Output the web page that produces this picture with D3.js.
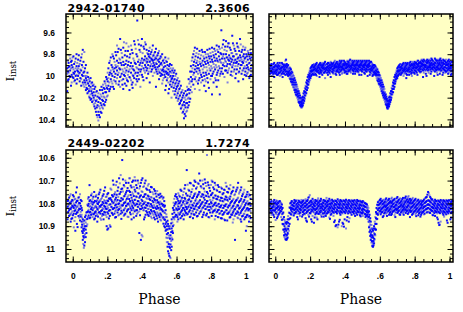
<!DOCTYPE html>
<html>
<head>
<meta charset="utf-8">
<script src="https://cdn.jsdelivr.net/npm/d3@7/dist/d3.min.js"></script>
<style>
  body { margin: 0; background: #fff; }
  svg { display: block; }
</style>
</head>
<body>
<div id="chart"></div>
<script>
// titles over each row of panels
const starIds = ["2942-01740", "2449-02202"];
const periods = ["2.3606", "1.7274"];

const phaseTicks = [0, 0.2, 0.4, 0.6, 0.8, 1];
const topMagTicks = [9.6, 9.8, 10, 10.2, 10.4];
const bottomMagTicks = [10.6, 10.7, 10.8, 10.9, 11];

// each row: [phase, mag, mag, ...]
const tlRows = [
  [-0.032, 9.93, 10.14, 9.98], [-0.024, 9.88, 9.97, 10.03, 9.92], [-0.015, 9.84, 9.95, 10.01],
  [-0.006, 9.9, 9.99, 10.06, 9.86], [0.004, 9.82, 9.94, 10.02, 9.97], [0.013, 9.87, 9.96, 10.04],
  [0.022, 9.8, 9.91, 9.99, 10.07], [0.031, 9.85, 9.93, 10.0, 9.96], [0.04, 9.89, 9.97, 10.05],
  [0.049, 9.83, 9.95, 10.03, 10.09], [0.058, 9.76, 9.92, 10.0, 10.06], [0.067, 9.78, 9.96, 10.04, 10.1],
  [0.076, 9.9, 10.02, 10.08, 10.13], [0.085, 9.97, 10.06, 10.12, 10.16], [0.094, 10.03, 10.09, 10.14, 10.19],
  [0.103, 10.02, 10.1, 10.17, 10.22], [0.112, 10.06, 10.12, 10.16, 10.24], [0.121, 10.08, 10.15, 10.2, 10.26],
  [0.13, 10.1, 10.18, 10.25, 10.3], [0.139, 10.14, 10.22, 10.29, 10.36], [0.148, 10.16, 10.24, 10.33, 10.41],
  [0.157, 10.13, 10.21, 10.3, 10.38], [0.166, 10.1, 10.19, 10.27, 10.34], [0.175, 10.08, 10.16, 10.23, 10.3],
  [0.184, 10.05, 10.12, 10.2, 10.27], [0.193, 10.01, 10.09, 10.15, 10.22], [0.202, 9.97, 10.05, 10.12, 10.18],
  [0.211, 9.88, 9.99, 10.06, 10.14], [0.22, 9.83, 9.95, 10.03, 10.1], [0.229, 9.8, 9.92, 10.0, 10.07],
  [0.238, 9.84, 9.96, 10.04, 10.12], [0.247, 9.78, 9.9, 9.98, 10.05], [0.256, 9.72, 9.86, 9.95, 10.02],
  [0.265, 9.75, 9.88, 9.97, 10.08], [0.274, 9.66, 9.85, 9.94, 10.01, 10.1], [0.283, 9.79, 9.9, 9.98, 10.04],
  [0.292, 9.74, 9.87, 9.96, 10.03, 10.12], [0.301, 9.81, 9.93, 10.0, 10.07], [0.31, 9.7, 9.86, 9.95, 10.02, 10.09],
  [0.319, 9.77, 9.9, 9.99, 10.05], [0.328, 9.83, 9.94, 10.01, 10.13], [0.337, 9.72, 9.88, 9.97, 10.04],
  [0.346, 9.79, 9.91, 9.99, 10.06, 10.11], [0.355, 9.68, 9.86, 9.95, 10.02], [0.364, 9.75, 9.89, 9.97, 10.08],
  [0.373, 9.49, 9.82, 9.93, 10.0, 10.05], [0.382, 9.71, 9.85, 9.94, 10.03], [0.391, 9.78, 9.88, 9.96, 10.1],
  [0.4, 9.66, 9.84, 9.91, 9.99], [0.409, 9.73, 9.86, 9.93, 10.04], [0.418, 9.69, 9.82, 9.9, 9.97],
  [0.427, 9.76, 9.84, 9.88, 9.95, 10.02], [0.436, 9.8, 9.85, 9.9, 9.98], [0.445, 9.74, 9.83, 9.87, 9.93, 10.06],
  [0.454, 9.78, 9.84, 9.89, 9.96], [0.463, 9.72, 9.82, 9.86, 9.91, 10.0], [0.472, 9.79, 9.85, 9.9, 9.97],
  [0.481, 9.75, 9.84, 9.88, 9.94, 10.1], [0.49, 9.81, 9.86, 9.92, 9.98], [0.499, 9.77, 9.87, 9.91, 9.96, 10.03],
  [0.508, 9.82, 9.89, 9.94, 10.0], [0.517, 9.8, 9.9, 9.95, 9.99, 10.07], [0.526, 9.85, 9.92, 9.96, 10.02],
  [0.535, 9.83, 9.91, 9.97, 10.01, 10.13], [0.544, 9.87, 9.93, 9.98, 10.04], [0.553, 9.84, 9.94, 9.99, 10.06, 10.16],
  [0.562, 9.89, 9.96, 10.01, 10.08], [0.571, 9.9, 9.97, 10.03, 10.1, 10.2], [0.58, 9.93, 10.0, 10.06, 10.14],
  [0.589, 9.95, 10.03, 10.09, 10.17], [0.598, 9.98, 10.06, 10.12, 10.2], [0.607, 10.02, 10.09, 10.16, 10.23],
  [0.616, 10.05, 10.12, 10.19, 10.26], [0.625, 10.09, 10.16, 10.23, 10.3], [0.634, 10.13, 10.2, 10.27, 10.34],
  [0.643, 10.16, 10.24, 10.31, 10.39], [0.652, 10.14, 10.22, 10.29, 10.37], [0.661, 10.1, 10.17, 10.25, 10.32],
  [0.67, 10.03, 10.12, 10.2, 10.27], [0.679, 9.96, 10.05, 10.13, 10.21], [0.688, 9.86, 9.96, 10.05, 10.15],
  [0.697, 9.8, 9.9, 9.99, 10.08], [0.706, 9.74, 9.85, 9.94, 10.03, 10.12], [0.715, 9.79, 9.88, 9.96, 10.05],
  [0.724, 9.83, 9.9, 9.98, 10.07], [0.733, 9.77, 9.87, 9.95, 10.02, 10.13], [0.742, 9.81, 9.91, 9.99, 10.06],
  [0.751, 9.78, 9.86, 9.94, 10.04], [0.76, 9.84, 9.92, 10.0, 10.09], [0.769, 9.8, 9.89, 9.97, 10.05, 10.14],
  [0.778, 9.76, 9.86, 9.95, 10.02], [0.787, 9.82, 9.9, 9.98, 10.11], [0.796, 9.79, 9.87, 9.95, 10.03],
  [0.805, 9.74, 9.85, 9.93, 10.0, 10.17], [0.814, 9.81, 9.89, 9.96, 10.06], [0.823, 9.77, 9.86, 9.94, 10.02],
  [0.832, 9.72, 9.84, 9.92, 9.99, 10.1], [0.841, 9.78, 9.87, 9.95, 10.04], [0.85, 9.75, 9.85, 9.93, 10.0, 10.17],
  [0.859, 9.58, 9.8, 9.88, 9.96], [0.868, 9.71, 9.82, 9.9, 9.98], [0.877, 9.76, 9.84, 9.91, 10.01],
  [0.886, 9.68, 9.8, 9.87, 9.95], [0.895, 9.73, 9.83, 9.89, 9.97, 10.06], [0.904, 9.7, 9.81, 9.86, 9.93],
  [0.913, 9.76, 9.84, 9.9, 9.99], [0.922, 9.63, 9.79, 9.85, 9.92, 10.0], [0.931, 9.72, 9.82, 9.88, 9.96],
  [0.94, 9.77, 9.85, 9.91, 10.02], [0.949, 9.7, 9.8, 9.87, 9.94], [0.958, 9.74, 9.83, 9.89, 9.97, 10.05],
  [0.967, 9.66, 9.81, 9.86, 9.93], [0.976, 9.78, 9.85, 9.9, 9.98], [0.985, 9.73, 9.82, 9.88, 9.95, 10.03],
  [0.994, 9.76, 9.84, 9.91, 9.99], [1.003, 9.8, 9.87, 9.93, 10.0], [1.012, 9.77, 9.85, 9.92, 9.97],
  [1.021, 9.82, 9.88, 9.95, 10.02], [1.03, 9.79, 9.86, 9.93, 9.99]
];

const tlExtra = [
  [-0.028, 9.86, 9.96, 10.04], [-0.019, 9.91, 10.0, 9.81], [-0.01, 9.87, 9.93, 10.09], [-0.001, 9.83, 9.92, 10.01],
  [0.008, 9.89, 9.98, 10.05], [0.017, 9.84, 9.93, 10.0], [0.026, 9.88, 9.95, 10.03], [0.035, 9.81, 9.91, 9.98],
  [0.044, 9.86, 9.94, 10.02], [0.053, 9.8, 9.9, 9.99], [0.062, 9.87, 9.97, 10.08], [0.071, 9.93, 10.0, 10.06],
  [0.08, 10.0, 10.04, 10.11], [0.089, 10.01, 10.07, 10.15], [0.098, 10.05, 10.12, 10.2], [0.107, 10.07, 10.14, 10.21],
  [0.116, 10.09, 10.18, 10.23], [0.125, 10.12, 10.22, 10.28], [0.134, 10.15, 10.23, 10.33], [0.143, 10.19, 10.27, 10.38],
  [0.152, 10.2, 10.28, 10.36], [0.161, 10.17, 10.25, 10.33], [0.17, 10.13, 10.22, 10.29], [0.179, 10.11, 10.19, 10.26],
  [0.188, 10.07, 10.15, 10.24], [0.197, 10.03, 10.11, 10.19], [0.206, 9.93, 10.02, 10.09], [0.215, 9.86, 9.97, 10.12],
  [0.224, 9.9, 9.98, 10.05], [0.233, 9.82, 9.94, 10.1], [0.242, 9.87, 9.93, 10.01], [0.251, 9.81, 9.92, 10.07],
  [0.26, 9.78, 9.91, 9.99], [0.269, 9.84, 9.93, 10.05], [0.278, 9.76, 9.88, 10.0], [0.287, 9.83, 9.94, 10.08],
  [0.296, 9.69, 9.9, 9.99], [0.305, 9.77, 9.89, 9.97], [0.314, 9.82, 9.92, 10.04], [0.323, 9.73, 9.87, 9.96],
  [0.332, 9.8, 9.91, 10.02], [0.341, 9.76, 9.93, 10.08], [0.35, 9.84, 9.94, 10.0], [0.359, 9.71, 9.88, 9.98],
  [0.368, 9.8, 9.92, 10.03], [0.377, 9.67, 9.87, 9.97], [0.386, 9.76, 9.9, 9.99], [0.395, 9.72, 9.86, 9.94],
  [0.404, 9.79, 9.88, 10.01], [0.413, 9.75, 9.85, 9.95], [0.422, 9.71, 9.86, 9.92], [0.431, 9.79, 9.87, 9.93],
  [0.44, 9.77, 9.82, 9.96], [0.449, 9.8, 9.86, 9.91], [0.458, 9.76, 9.85, 9.94], [0.467, 9.81, 9.88, 9.93],
  [0.476, 9.78, 9.83, 9.92], [0.485, 9.82, 9.89, 9.96], [0.494, 9.79, 9.85, 9.94], [0.503, 9.84, 9.9, 9.97],
  [0.512, 9.83, 9.88, 9.98], [0.521, 9.86, 9.94, 10.04], [0.53, 9.88, 9.95, 9.99], [0.539, 9.86, 9.96, 10.09],
  [0.548, 9.9, 9.97, 10.02], [0.557, 9.91, 9.98, 10.12], [0.566, 9.93, 10.0, 10.05], [0.575, 9.95, 10.02, 10.08],
  [0.584, 9.97, 10.04, 10.11], [0.593, 10.0, 10.07, 10.14], [0.602, 10.04, 10.1, 10.18], [0.611, 10.07, 10.14, 10.21],
  [0.62, 10.11, 10.18, 10.25], [0.629, 10.15, 10.22, 10.29], [0.638, 10.18, 10.26, 10.33], [0.647, 10.2, 10.27, 10.35],
  [0.656, 10.18, 10.25, 10.33], [0.665, 10.13, 10.21, 10.29], [0.674, 10.07, 10.16, 10.24], [0.683, 9.91, 10.01, 10.1],
  [0.692, 9.83, 9.93, 10.03], [0.701, 9.77, 9.87, 9.97], [0.71, 9.82, 9.91, 10.01], [0.719, 9.75, 9.86, 9.93],
  [0.728, 9.8, 9.93, 10.04], [0.737, 9.84, 9.89, 9.97], [0.746, 9.76, 9.88, 10.01], [0.755, 9.82, 9.9, 9.97],
  [0.764, 9.78, 9.87, 10.03], [0.773, 9.83, 9.92, 9.99], [0.782, 9.8, 9.88, 10.06], [0.791, 9.75, 9.84, 9.93],
  [0.8, 9.82, 9.91, 10.0], [0.809, 9.78, 9.87, 9.98], [0.818, 9.75, 9.83, 9.92], [0.827, 9.8, 9.9, 10.04],
  [0.836, 9.76, 9.86, 9.97], [0.845, 9.73, 9.82, 9.91], [0.854, 9.79, 9.87, 9.98], [0.863, 9.74, 9.84, 9.93],
  [0.872, 9.67, 9.8, 9.88], [0.881, 9.73, 9.86, 9.95], [0.89, 9.77, 9.83, 9.91], [0.899, 9.7, 9.85, 9.95],
  [0.908, 9.74, 9.83, 9.89], [0.917, 9.79, 9.87, 9.96], [0.926, 9.7, 9.82, 9.9], [0.935, 9.75, 9.86, 9.94],
  [0.944, 9.8, 9.88, 9.98], [0.953, 9.73, 9.84, 9.91], [0.962, 9.77, 9.86, 9.96], [0.971, 9.71, 9.83, 9.9],
  [0.98, 9.76, 9.87, 9.95], [0.989, 9.8, 9.86, 9.93], [0.998, 9.74, 9.83, 9.96], [1.007, 9.82, 9.9, 9.98],
  [1.016, 9.79, 9.89, 9.94], [1.025, 9.76, 9.84, 10.0], [1.034, 9.83, 9.9, 9.96]
];

const trRows = [
  [-0.03, 9.9, 9.93, 9.95, 9.98], [-0.022, 9.89, 9.92, 9.95, 9.97, 10.0], [-0.014, 9.91, 9.94, 9.96, 9.99],
  [-0.006, 9.88, 9.92, 9.94, 9.97, 10.01], [0.002, 9.9, 9.93, 9.95, 9.98], [0.01, 9.89, 9.91, 9.94, 9.96, 9.99],
  [0.018, 9.9, 9.93, 9.96, 9.98], [0.026, 9.88, 9.92, 9.94, 9.97, 10.0], [0.034, 9.91, 9.93, 9.95, 9.99],
  [0.042, 9.89, 9.92, 9.95, 9.97, 10.01], [0.05, 9.9, 9.93, 9.94, 9.98], [0.058, 9.86, 9.91, 9.94, 9.96, 9.99],
  [0.066, 9.89, 9.92, 9.95, 9.98], [0.074, 9.9, 9.94, 9.97, 10.0], [0.082, 9.92, 9.95, 9.99, 10.02],
  [0.09, 9.94, 9.98, 10.02, 10.05], [0.098, 9.97, 10.01, 10.05, 10.08], [0.106, 10.0, 10.04, 10.08, 10.11],
  [0.114, 10.04, 10.08, 10.12, 10.15], [0.122, 10.08, 10.12, 10.15, 10.18], [0.13, 10.12, 10.16, 10.19, 10.22],
  [0.138, 10.16, 10.2, 10.23, 10.25], [0.146, 10.2, 10.23, 10.26, 10.28], [0.152, 10.22, 10.25, 10.27, 10.29],
  [0.158, 10.19, 10.22, 10.25, 10.27], [0.166, 10.14, 10.17, 10.2, 10.23], [0.174, 10.09, 10.12, 10.15, 10.18],
  [0.182, 10.04, 10.07, 10.1, 10.13], [0.19, 9.99, 10.02, 10.05, 10.08], [0.198, 9.95, 9.98, 10.01, 10.04],
  [0.206, 9.92, 9.95, 9.97, 10.0], [0.214, 9.9, 9.93, 9.95, 9.98], [0.222, 9.89, 9.92, 9.94, 9.97, 9.99],
  [0.23, 9.9, 9.93, 9.95, 9.98], [0.238, 9.88, 9.91, 9.94, 9.96, 10.0], [0.246, 9.9, 9.92, 9.95, 9.97],
  [0.254, 9.89, 9.93, 9.94, 9.98, 10.01], [0.262, 9.9, 9.92, 9.95, 9.97], [0.27, 9.88, 9.91, 9.93, 9.96, 9.99],
  [0.278, 9.89, 9.92, 9.94, 9.97], [0.286, 9.87, 9.9, 9.93, 9.96, 10.02], [0.294, 9.89, 9.92, 9.94, 9.97],
  [0.302, 9.88, 9.91, 9.93, 9.95, 9.99], [0.31, 9.9, 9.92, 9.94, 9.97], [0.318, 9.87, 9.9, 9.93, 9.96, 10.01],
  [0.326, 9.89, 9.91, 9.94, 9.96], [0.334, 9.88, 9.9, 9.93, 9.95, 9.98], [0.342, 9.86, 9.9, 9.92, 9.95],
  [0.35, 9.88, 9.91, 9.93, 9.96, 9.99], [0.358, 9.89, 9.91, 9.94, 9.96], [0.366, 9.87, 9.9, 9.92, 9.95, 9.97],
  [0.374, 9.88, 9.91, 9.93, 9.96], [0.382, 9.86, 9.89, 9.92, 9.94, 9.98], [0.39, 9.88, 9.9, 9.93, 9.95],
  [0.398, 9.87, 9.9, 9.92, 9.95, 9.97], [0.406, 9.89, 9.91, 9.93, 9.96], [0.414, 9.86, 9.89, 9.92, 9.94, 9.98],
  [0.422, 9.88, 9.9, 9.93, 9.95], [0.43, 9.85, 9.89, 9.91, 9.94, 9.96], [0.438, 9.87, 9.9, 9.92, 9.95],
  [0.446, 9.88, 9.9, 9.93, 9.95, 9.98], [0.454, 9.86, 9.89, 9.91, 9.94], [0.462, 9.87, 9.9, 9.92, 9.94, 9.96],
  [0.47, 9.88, 9.9, 9.93, 9.95], [0.478, 9.86, 9.89, 9.91, 9.94, 9.97], [0.486, 9.87, 9.9, 9.92, 9.95],
  [0.494, 9.88, 9.9, 9.93, 9.95, 9.99], [0.502, 9.86, 9.89, 9.91, 9.94], [0.51, 9.87, 9.9, 9.92, 9.94, 9.97],
  [0.518, 9.88, 9.9, 9.93, 9.95], [0.526, 9.86, 9.89, 9.91, 9.94, 9.96], [0.534, 9.87, 9.9, 9.92, 9.95],
  [0.542, 9.88, 9.91, 9.93, 9.96, 9.99], [0.55, 9.87, 9.9, 9.93, 9.95], [0.558, 9.89, 9.91, 9.94, 9.96, 10.0],
  [0.566, 9.9, 9.92, 9.95, 9.97], [0.574, 9.91, 9.94, 9.97, 9.99], [0.582, 9.93, 9.96, 9.99, 10.02],
  [0.59, 9.96, 9.99, 10.02, 10.05], [0.598, 9.99, 10.02, 10.05, 10.08], [0.606, 10.02, 10.06, 10.09, 10.12],
  [0.614, 10.06, 10.1, 10.13, 10.16], [0.622, 10.1, 10.14, 10.17, 10.2], [0.63, 10.15, 10.18, 10.21, 10.24],
  [0.638, 10.19, 10.22, 10.25, 10.27], [0.644, 10.23, 10.26, 10.28, 10.3], [0.65, 10.22, 10.25, 10.27, 10.29],
  [0.656, 10.19, 10.22, 10.24, 10.26], [0.664, 10.14, 10.17, 10.2, 10.22], [0.672, 10.09, 10.12, 10.15, 10.17],
  [0.68, 10.04, 10.07, 10.1, 10.12], [0.688, 9.99, 10.02, 10.05, 10.07], [0.696, 9.95, 9.98, 10.01, 10.03],
  [0.704, 9.92, 9.95, 9.97, 10.0], [0.712, 9.9, 9.93, 9.95, 9.98], [0.72, 9.89, 9.92, 9.94, 9.97, 9.99],
  [0.728, 9.9, 9.93, 9.95, 9.97], [0.736, 9.88, 9.91, 9.94, 9.96, 10.0], [0.744, 9.89, 9.92, 9.94, 9.97],
  [0.752, 9.9, 9.93, 9.95, 9.98, 10.02], [0.76, 9.88, 9.91, 9.94, 9.96], [0.768, 9.89, 9.92, 9.94, 9.97, 9.99],
  [0.776, 9.87, 9.91, 9.93, 9.96], [0.784, 9.89, 9.92, 9.95, 9.97, 10.0], [0.792, 9.88, 9.91, 9.93, 9.96],
  [0.8, 9.87, 9.9, 9.93, 9.95, 9.98], [0.808, 9.88, 9.91, 9.93, 9.96], [0.816, 9.86, 9.9, 9.92, 9.95, 9.99],
  [0.824, 9.88, 9.91, 9.93, 9.95], [0.832, 9.87, 9.89, 9.92, 9.94, 9.97], [0.84, 9.85, 9.89, 9.91, 9.94],
  [0.848, 9.87, 9.9, 9.92, 9.95, 10.01], [0.856, 9.86, 9.89, 9.91, 9.94], [0.864, 9.87, 9.9, 9.92, 9.95, 9.98],
  [0.872, 9.85, 9.88, 9.91, 9.93], [0.88, 9.86, 9.89, 9.92, 9.94, 9.97], [0.888, 9.87, 9.9, 9.92, 9.95],
  [0.896, 9.84, 9.88, 9.91, 9.93, 9.96], [0.904, 9.86, 9.89, 9.92, 9.94], [0.912, 9.87, 9.9, 9.92, 9.95, 10.0],
  [0.92, 9.85, 9.88, 9.91, 9.94], [0.928, 9.86, 9.89, 9.92, 9.94, 9.97], [0.936, 9.87, 9.9, 9.93, 9.95],
  [0.944, 9.85, 9.88, 9.91, 9.94, 9.98], [0.952, 9.86, 9.89, 9.92, 9.95], [0.96, 9.87, 9.9, 9.93, 9.95, 9.99],
  [0.968, 9.86, 9.89, 9.92, 9.94], [0.976, 9.87, 9.9, 9.92, 9.95, 9.97], [0.984, 9.88, 9.9, 9.93, 9.96],
  [0.992, 9.86, 9.89, 9.92, 9.94, 9.98], [1.0, 9.87, 9.9, 9.93, 9.95], [1.008, 9.88, 9.91, 9.93, 9.96, 9.99],
  [1.016, 9.87, 9.9, 9.92, 9.95]
];

const trExtra = [
  [-0.026, 9.91, 9.94, 9.96], [-0.018, 9.9, 9.93, 9.97], [-0.01, 9.89, 9.92, 9.95, 9.98], [-0.002, 9.91, 9.94, 9.96],
  [0.006, 9.92, 9.95, 9.97], [0.014, 9.88, 9.92, 9.95, 9.99], [0.022, 9.91, 9.94, 9.97], [0.03, 9.9, 9.93, 9.96],
  [0.038, 9.88, 9.92, 9.94, 9.98], [0.046, 9.91, 9.93, 9.96], [0.054, 9.89, 9.92, 9.95, 9.97], [0.062, 9.85, 9.9, 9.93, 9.96],
  [0.07, 9.91, 9.93, 9.96, 9.99], [0.078, 9.93, 9.96, 9.98], [0.086, 9.93, 9.97, 10.0, 10.03], [0.094, 9.96, 10.0, 10.03, 10.06],
  [0.102, 9.99, 10.03, 10.06, 10.1], [0.11, 10.02, 10.06, 10.1, 10.13], [0.118, 10.06, 10.1, 10.13, 10.17], [0.126, 10.1, 10.14, 10.17, 10.2],
  [0.134, 10.14, 10.18, 10.21, 10.24], [0.142, 10.18, 10.21, 10.24, 10.27], [0.149, 10.21, 10.24, 10.27, 10.29], [0.155, 10.2, 10.23, 10.26, 10.28],
  [0.162, 10.16, 10.2, 10.22, 10.25], [0.17, 10.11, 10.15, 10.18, 10.21], [0.178, 10.06, 10.1, 10.13, 10.16], [0.186, 10.01, 10.05, 10.08, 10.11],
  [0.194, 9.97, 10.0, 10.03, 10.06], [0.202, 9.93, 9.96, 9.99, 10.02], [0.21, 9.91, 9.94, 9.96, 9.99], [0.218, 9.9, 9.92, 9.95, 9.98],
  [0.226, 9.91, 9.94, 9.96], [0.234, 9.89, 9.92, 9.95, 9.99], [0.242, 9.91, 9.93, 9.96], [0.25, 9.9, 9.92, 9.95, 9.97],
  [0.258, 9.88, 9.91, 9.94, 9.96], [0.266, 9.89, 9.92, 9.95, 9.98], [0.274, 9.9, 9.93, 9.95], [0.282, 9.88, 9.91, 9.94, 9.97],
  [0.29, 9.9, 9.93, 9.95], [0.298, 9.89, 9.92, 9.94, 9.97], [0.306, 9.88, 9.91, 9.93, 9.96], [0.314, 9.89, 9.92, 9.95, 9.98],
  [0.322, 9.88, 9.92, 9.94], [0.33, 9.89, 9.91, 9.94, 9.97], [0.338, 9.87, 9.91, 9.93, 9.96], [0.346, 9.89, 9.92, 9.94, 9.98],
  [0.354, 9.87, 9.9, 9.92, 9.95], [0.362, 9.88, 9.91, 9.93, 9.96], [0.37, 9.86, 9.89, 9.92, 9.94, 9.99], [0.378, 9.87, 9.9, 9.92, 9.95],
  [0.386, 9.89, 9.91, 9.93, 9.97], [0.394, 9.86, 9.89, 9.91, 9.94], [0.402, 9.88, 9.91, 9.93, 9.96], [0.41, 9.87, 9.9, 9.92, 9.95, 9.98],
  [0.418, 9.87, 9.91, 9.94, 9.96], [0.426, 9.86, 9.9, 9.92, 9.95], [0.434, 9.88, 9.91, 9.93, 9.97], [0.442, 9.86, 9.89, 9.92, 9.94],
  [0.45, 9.87, 9.91, 9.93, 9.96], [0.458, 9.88, 9.9, 9.93, 9.95, 9.98], [0.466, 9.86, 9.89, 9.91, 9.94], [0.474, 9.87, 9.91, 9.93, 9.96],
  [0.482, 9.88, 9.9, 9.92, 9.95, 9.99], [0.49, 9.86, 9.89, 9.91, 9.94], [0.498, 9.87, 9.91, 9.93, 9.96], [0.506, 9.88, 9.9, 9.92, 9.95],
  [0.514, 9.86, 9.89, 9.91, 9.94, 9.98], [0.522, 9.87, 9.91, 9.93, 9.96], [0.53, 9.88, 9.9, 9.92, 9.95, 10.0], [0.538, 9.86, 9.89, 9.91, 9.94],
  [0.546, 9.87, 9.91, 9.94, 9.97], [0.554, 9.88, 9.92, 9.95, 9.98], [0.562, 9.9, 9.93, 9.96, 9.99], [0.57, 9.9, 9.93, 9.96, 9.98],
  [0.578, 9.92, 9.95, 9.98, 10.0], [0.586, 9.94, 9.97, 10.0, 10.04], [0.594, 9.97, 10.0, 10.03, 10.07], [0.602, 10.0, 10.04, 10.07, 10.1],
  [0.61, 10.04, 10.08, 10.11, 10.14], [0.618, 10.08, 10.12, 10.15, 10.18], [0.626, 10.12, 10.16, 10.19, 10.22], [0.634, 10.17, 10.2, 10.23, 10.26],
  [0.641, 10.21, 10.24, 10.27, 10.29], [0.647, 10.23, 10.26, 10.28, 10.3], [0.653, 10.2, 10.23, 10.26, 10.28], [0.66, 10.16, 10.19, 10.22, 10.24],
  [0.668, 10.11, 10.14, 10.17, 10.2], [0.676, 10.06, 10.09, 10.12, 10.15], [0.684, 10.01, 10.04, 10.07, 10.1], [0.692, 9.97, 10.0, 10.03, 10.05],
  [0.7, 9.93, 9.96, 9.99, 10.02], [0.708, 9.91, 9.94, 9.96, 9.99], [0.716, 9.89, 9.92, 9.95, 9.97], [0.724, 9.91, 9.93, 9.96, 9.98],
  [0.732, 9.89, 9.92, 9.95], [0.74, 9.9, 9.93, 9.95, 9.98], [0.748, 9.88, 9.91, 9.94, 9.96], [0.756, 9.89, 9.92, 9.95, 9.99],
  [0.764, 9.9, 9.93, 9.95], [0.772, 9.88, 9.9, 9.93, 9.96], [0.78, 9.9, 9.92, 9.94, 9.98], [0.788, 9.87, 9.9, 9.93, 9.95],
  [0.796, 9.89, 9.92, 9.94, 9.97], [0.804, 9.88, 9.9, 9.92, 9.95], [0.812, 9.87, 9.89, 9.92, 9.94, 9.97], [0.82, 9.86, 9.89, 9.91, 9.94],
  [0.828, 9.88, 9.9, 9.93, 9.96], [0.836, 9.86, 9.88, 9.91, 9.93, 9.96], [0.844, 9.86, 9.89, 9.92, 9.94], [0.852, 9.85, 9.88, 9.9, 9.93, 9.97],
  [0.86, 9.87, 9.9, 9.92, 9.95], [0.868, 9.86, 9.88, 9.91, 9.94, 10.0], [0.876, 9.87, 9.9, 9.92, 9.95], [0.884, 9.85, 9.88, 9.91, 9.93],
  [0.892, 9.86, 9.89, 9.91, 9.94, 9.98], [0.9, 9.85, 9.88, 9.9, 9.93], [0.908, 9.87, 9.89, 9.92, 9.95], [0.916, 9.84, 9.88, 9.9, 9.93, 9.96],
  [0.924, 9.86, 9.9, 9.92, 9.95], [0.932, 9.85, 9.88, 9.91, 9.93, 9.99], [0.94, 9.86, 9.89, 9.92, 9.94], [0.948, 9.84, 9.87, 9.9, 9.93, 9.96],
  [0.956, 9.86, 9.88, 9.91, 9.94], [0.964, 9.85, 9.88, 9.91, 9.93, 9.97], [0.972, 9.86, 9.89, 9.92, 9.95], [0.98, 9.85, 9.88, 9.9, 9.93, 9.96],
  [0.988, 9.87, 9.9, 9.92, 9.95], [0.996, 9.85, 9.88, 9.91, 9.93, 9.97], [1.004, 9.86, 9.89, 9.92, 9.94], [1.012, 9.87, 9.9, 9.92, 9.95, 9.98]
];

const blRows = [
  [-0.03, 10.79, 10.815, 10.84, 10.87], [-0.021, 10.775, 10.805, 10.83, 10.855], [-0.012, 10.76, 10.8, 10.825, 10.85, 10.88],
  [-0.003, 10.785, 10.81, 10.835, 10.865], [0.006, 10.77, 10.8, 10.82, 10.845, 10.905], [0.015, 10.78, 10.81, 10.83, 10.86, 10.92],
  [0.024, 10.73, 10.79, 10.815, 10.84, 10.89], [0.033, 10.775, 10.805, 10.83, 10.855], [0.042, 10.76, 10.8, 10.825, 10.85, 10.875],
  [0.051, 10.79, 10.82, 10.85, 10.88, 10.905], [0.058, 10.87, 10.9, 10.93, 10.96], [0.064, 10.89, 10.92, 10.95, 10.995],
  [0.071, 10.86, 10.9, 10.935, 10.97], [0.079, 10.84, 10.87, 10.9, 10.93], [0.088, 10.78, 10.81, 10.835, 10.86],
  [0.097, 10.72, 10.79, 10.815, 10.84, 10.865], [0.106, 10.765, 10.8, 10.825, 10.85], [0.115, 10.78, 10.805, 10.83, 10.86],
  [0.124, 10.75, 10.795, 10.82, 10.845, 10.87], [0.133, 10.77, 10.81, 10.835, 10.855], [0.142, 10.785, 10.8, 10.825, 10.85, 10.88],
  [0.151, 10.76, 10.795, 10.82, 10.84], [0.16, 10.74, 10.79, 10.815, 10.845, 10.865], [0.169, 10.775, 10.805, 10.83, 10.855],
  [0.178, 10.76, 10.8, 10.825, 10.85, 10.87], [0.187, 10.73, 10.79, 10.815, 10.84], [0.196, 10.77, 10.8, 10.825, 10.86, 10.9],
  [0.205, 10.755, 10.79, 10.82, 10.845, 10.91], [0.214, 10.78, 10.805, 10.83, 10.855, 10.895], [0.223, 10.74, 10.785, 10.815, 10.84],
  [0.232, 10.7, 10.77, 10.8, 10.825, 10.85], [0.241, 10.76, 10.79, 10.82, 10.845], [0.25, 10.72, 10.775, 10.805, 10.83, 10.86],
  [0.259, 10.745, 10.785, 10.815, 10.84], [0.268, 10.69, 10.76, 10.8, 10.825, 10.85], [0.277, 10.676, 10.75, 10.79, 10.82, 10.845],
  [0.286, 10.61, 10.735, 10.785, 10.81, 10.84], [0.295, 10.72, 10.77, 10.8, 10.83, 10.855], [0.304, 10.7, 10.76, 10.795, 10.82, 10.845],
  [0.313, 10.745, 10.78, 10.81, 10.835], [0.322, 10.71, 10.765, 10.8, 10.825, 10.86], [0.331, 10.69, 10.75, 10.79, 10.815, 10.84],
  [0.34, 10.73, 10.775, 10.805, 10.83, 10.87], [0.349, 10.7, 10.76, 10.795, 10.82, 10.845], [0.358, 10.685, 10.74, 10.785, 10.81, 10.835],
  [0.367, 10.72, 10.77, 10.8, 10.83, 10.855], [0.376, 10.7, 10.755, 10.79, 10.815, 10.84], [0.385, 10.735, 10.775, 10.805, 10.835, 10.93],
  [0.394, 10.71, 10.765, 10.8, 10.825, 10.96], [0.403, 10.69, 10.75, 10.79, 10.82, 10.945], [0.412, 10.725, 10.77, 10.8, 10.83, 10.87],
  [0.421, 10.7, 10.76, 10.795, 10.82, 10.85], [0.43, 10.74, 10.78, 10.81, 10.84], [0.439, 10.715, 10.77, 10.8, 10.825, 10.855],
  [0.448, 10.75, 10.785, 10.815, 10.845], [0.457, 10.73, 10.775, 10.81, 10.835, 10.865], [0.466, 10.76, 10.795, 10.82, 10.85],
  [0.475, 10.745, 10.785, 10.815, 10.84, 10.87], [0.484, 10.77, 10.8, 10.825, 10.855], [0.493, 10.76, 10.795, 10.82, 10.845, 10.88],
  [0.502, 10.775, 10.805, 10.83, 10.86], [0.511, 10.77, 10.8, 10.825, 10.85, 10.875], [0.52, 10.78, 10.81, 10.835, 10.865],
  [0.529, 10.79, 10.815, 10.84, 10.87, 10.9], [0.537, 10.83, 10.86, 10.89, 10.92], [0.544, 10.86, 10.9, 10.935, 10.97],
  [0.551, 10.89, 10.93, 10.97, 11.01], [0.558, 10.91, 10.95, 10.99, 11.03], [0.565, 10.9, 10.94, 10.98, 11.04],
  [0.572, 10.87, 10.91, 10.95, 10.99], [0.579, 10.82, 10.86, 10.9, 10.93], [0.587, 10.78, 10.81, 10.84, 10.87],
  [0.596, 10.76, 10.795, 10.82, 10.85], [0.605, 10.78, 10.805, 10.83, 10.86, 10.88], [0.614, 10.765, 10.8, 10.825, 10.85],
  [0.623, 10.74, 10.79, 10.815, 10.84, 10.865], [0.632, 10.775, 10.805, 10.83, 10.855], [0.641, 10.75, 10.79, 10.82, 10.845, 10.87],
  [0.65, 10.72, 10.78, 10.81, 10.835], [0.659, 10.654, 10.765, 10.8, 10.825, 10.85], [0.668, 10.74, 10.785, 10.815, 10.84],
  [0.677, 10.71, 10.77, 10.805, 10.83, 10.86], [0.686, 10.75, 10.79, 10.82, 10.845], [0.695, 10.72, 10.775, 10.81, 10.835, 10.865],
  [0.704, 10.7, 10.76, 10.8, 10.825, 10.85], [0.713, 10.735, 10.78, 10.81, 10.84], [0.722, 10.71, 10.765, 10.8, 10.83, 10.855],
  [0.731, 10.669, 10.75, 10.795, 10.82, 10.845], [0.74, 10.725, 10.77, 10.805, 10.835], [0.749, 10.7, 10.76, 10.795, 10.82, 10.86],
  [0.758, 10.735, 10.775, 10.81, 10.84], [0.767, 10.71, 10.765, 10.8, 10.825, 10.85], [0.776, 10.588, 10.75, 10.79, 10.815, 10.845],
  [0.785, 10.72, 10.77, 10.805, 10.83, 10.86], [0.794, 10.745, 10.785, 10.815, 10.84], [0.803, 10.7, 10.76, 10.8, 10.825, 10.855],
  [0.812, 10.73, 10.775, 10.81, 10.835], [0.821, 10.71, 10.765, 10.8, 10.83, 10.87], [0.83, 10.74, 10.78, 10.81, 10.84],
  [0.839, 10.72, 10.77, 10.805, 10.83, 10.86], [0.848, 10.75, 10.785, 10.815, 10.845], [0.857, 10.73, 10.775, 10.81, 10.835, 10.865],
  [0.866, 10.76, 10.79, 10.82, 10.85], [0.875, 10.74, 10.78, 10.81, 10.84, 10.87], [0.884, 10.71, 10.77, 10.805, 10.83],
  [0.893, 10.75, 10.785, 10.815, 10.845, 10.875], [0.902, 10.735, 10.775, 10.81, 10.84], [0.911, 10.72, 10.77, 10.8, 10.83, 10.86],
  [0.92, 10.75, 10.79, 10.82, 10.85], [0.929, 10.73, 10.78, 10.81, 10.835, 10.87], [0.938, 10.76, 10.795, 10.825, 10.855, 10.96],
  [0.947, 10.74, 10.785, 10.815, 10.845], [0.956, 10.71, 10.775, 10.81, 10.84, 10.865], [0.965, 10.75, 10.79, 10.82, 10.85],
  [0.974, 10.73, 10.78, 10.81, 10.835, 10.88], [0.983, 10.76, 10.795, 10.825, 10.855], [0.992, 10.74, 10.785, 10.815, 10.845, 10.87],
  [1.001, 10.77, 10.8, 10.83, 10.86, 10.92], [1.01, 10.75, 10.79, 10.82, 10.85], [1.019, 10.76, 10.8, 10.825, 10.855, 10.88],
  [1.028, 10.78, 10.81, 10.835, 10.865]
];

const blExtra = [
  [-0.026, 10.787, 10.812, 10.838], [-0.017, 10.768, 10.797, 10.823, 10.848], [-0.008, 10.792, 10.818, 10.843, 10.868],
  [0.001, 10.764, 10.789, 10.814, 10.852], [0.01, 10.783, 10.808, 10.833, 10.877], [0.019, 10.752, 10.796, 10.821, 10.846],
  [0.028, 10.788, 10.813, 10.839, 10.904], [0.037, 10.772, 10.798, 10.823, 10.862], [0.046, 10.785, 10.811, 10.837, 10.858],
  [0.054, 10.83, 10.862, 10.893, 10.922], [0.061, 10.88, 10.912, 10.944, 10.978], [0.067, 10.875, 10.91, 10.942, 10.985],
  [0.075, 10.853, 10.884, 10.915, 10.948], [0.084, 10.806, 10.838, 10.868, 10.892], [0.092, 10.773, 10.802, 10.828, 10.853],
  [0.101, 10.786, 10.812, 10.837, 10.862], [0.11, 10.757, 10.792, 10.818, 10.843], [0.119, 10.771, 10.797, 10.823, 10.848],
  [0.128, 10.789, 10.814, 10.839, 10.866], [0.137, 10.763, 10.791, 10.817, 10.843], [0.146, 10.776, 10.803, 10.829, 10.858],
  [0.155, 10.752, 10.787, 10.812, 10.838], [0.164, 10.781, 10.808, 10.833, 10.872], [0.173, 10.767, 10.794, 10.82, 10.846],
  [0.182, 10.745, 10.786, 10.811, 10.837], [0.191, 10.772, 10.798, 10.823, 10.851], [0.2, 10.76, 10.788, 10.813, 10.839, 10.915],
  [0.209, 10.779, 10.806, 10.832, 10.866], [0.218, 10.735, 10.777, 10.804, 10.829, 10.902], [0.227, 10.764, 10.792, 10.818, 10.843],
  [0.236, 10.718, 10.768, 10.797, 10.822], [0.245, 10.751, 10.783, 10.809, 10.835, 10.862], [0.254, 10.705, 10.762, 10.792, 10.818],
  [0.263, 10.73, 10.772, 10.803, 10.829, 10.853], [0.272, 10.712, 10.758, 10.788, 10.813], [0.281, 10.738, 10.777, 10.806, 10.832, 10.868],
  [0.29, 10.695, 10.748, 10.782, 10.808], [0.299, 10.726, 10.768, 10.797, 10.824, 10.85], [0.308, 10.71, 10.752, 10.786, 10.811],
  [0.317, 10.733, 10.772, 10.803, 10.829, 10.858], [0.326, 10.69, 10.745, 10.781, 10.807], [0.335, 10.722, 10.763, 10.797, 10.822, 10.848],
  [0.344, 10.706, 10.752, 10.787, 10.812], [0.353, 10.728, 10.768, 10.801, 10.828, 10.862], [0.362, 10.7, 10.748, 10.783, 10.808],
  [0.371, 10.732, 10.772, 10.803, 10.83, 10.846], [0.38, 10.712, 10.757, 10.791, 10.817], [0.389, 10.725, 10.769, 10.798, 10.824, 10.852],
  [0.398, 10.698, 10.747, 10.784, 10.811, 10.938], [0.407, 10.728, 10.772, 10.804, 10.83], [0.416, 10.712, 10.761, 10.793, 10.818, 10.861],
  [0.425, 10.735, 10.777, 10.807, 10.834], [0.434, 10.722, 10.766, 10.799, 10.824, 10.849], [0.443, 10.742, 10.781, 10.811, 10.838],
  [0.452, 10.728, 10.772, 10.803, 10.829, 10.858], [0.461, 10.751, 10.789, 10.817, 10.843], [0.47, 10.738, 10.779, 10.808, 10.834, 10.862],
  [0.479, 10.757, 10.792, 10.82, 10.848], [0.488, 10.746, 10.786, 10.812, 10.839, 10.866], [0.497, 10.763, 10.797, 10.823, 10.852],
  [0.506, 10.758, 10.792, 10.818, 10.844, 10.871], [0.515, 10.768, 10.802, 10.828, 10.857], [0.524, 10.774, 10.806, 10.832, 10.861, 10.889],
  [0.533, 10.81, 10.842, 10.872, 10.905], [0.541, 10.848, 10.882, 10.915, 10.95], [0.548, 10.876, 10.914, 10.952, 10.99],
  [0.555, 10.9, 10.94, 10.978, 11.02], [0.562, 10.912, 10.955, 10.995, 11.035], [0.569, 10.888, 10.926, 10.965, 11.005],
  [0.576, 10.846, 10.884, 10.922, 10.958], [0.583, 10.797, 10.829, 10.862, 10.895], [0.592, 10.768, 10.802, 10.829, 10.858],
  [0.601, 10.772, 10.797, 10.824, 10.852], [0.61, 10.756, 10.789, 10.814, 10.842, 10.87], [0.619, 10.77, 10.797, 10.822, 10.848],
  [0.628, 10.745, 10.783, 10.809, 10.835, 10.861], [0.637, 10.763, 10.796, 10.821, 10.847], [0.646, 10.735, 10.776, 10.803, 10.829, 10.852],
  [0.655, 10.757, 10.79, 10.816, 10.842], [0.664, 10.718, 10.766, 10.796, 10.821, 10.847], [0.673, 10.744, 10.782, 10.809, 10.836],
  [0.682, 10.712, 10.76, 10.792, 10.818, 10.857], [0.691, 10.738, 10.777, 10.806, 10.832], [0.7, 10.723, 10.768, 10.798, 10.823, 10.848],
  [0.709, 10.706, 10.755, 10.788, 10.814], [0.718, 10.729, 10.772, 10.802, 10.828, 10.857], [0.727, 10.714, 10.76, 10.791, 10.817],
  [0.736, 10.7, 10.752, 10.786, 10.812, 10.838], [0.745, 10.731, 10.77, 10.801, 10.827], [0.754, 10.716, 10.762, 10.793, 10.818, 10.85],
  [0.763, 10.695, 10.748, 10.784, 10.81], [0.772, 10.724, 10.768, 10.798, 10.824, 10.853], [0.781, 10.708, 10.757, 10.789, 10.815],
  [0.79, 10.732, 10.773, 10.803, 10.829, 10.862], [0.799, 10.719, 10.764, 10.795, 10.82], [0.808, 10.705, 10.754, 10.787, 10.813, 10.84],
  [0.817, 10.738, 10.777, 10.806, 10.832], [0.826, 10.72, 10.766, 10.797, 10.823, 10.855], [0.835, 10.744, 10.782, 10.811, 10.837],
  [0.844, 10.728, 10.772, 10.802, 10.828, 10.861], [0.853, 10.751, 10.788, 10.817, 10.843], [0.862, 10.735, 10.777, 10.806, 10.833, 10.866],
  [0.871, 10.755, 10.792, 10.82, 10.847], [0.88, 10.742, 10.783, 10.812, 10.838, 10.874], [0.889, 10.726, 10.774, 10.803, 10.83],
  [0.898, 10.752, 10.79, 10.818, 10.845], [0.907, 10.738, 10.781, 10.809, 10.836, 10.862], [0.916, 10.757, 10.794, 10.822, 10.849],
  [0.925, 10.745, 10.786, 10.814, 10.841, 10.884], [0.934, 10.764, 10.8, 10.827, 10.853], [0.943, 10.748, 10.789, 10.818, 10.845],
  [0.952, 10.731, 10.779, 10.808, 10.835, 10.862], [0.961, 10.757, 10.795, 10.823, 10.85], [0.97, 10.742, 10.787, 10.815, 10.842, 10.87],
  [0.979, 10.768, 10.802, 10.829, 10.857], [0.988, 10.752, 10.792, 10.82, 10.848], [0.997, 10.773, 10.807, 10.834, 10.862],
  [1.006, 10.761, 10.797, 10.824, 10.852, 10.9], [1.015, 10.77, 10.805, 10.831, 10.859], [1.024, 10.764, 10.799, 10.827, 10.856]
];

const brRows = [
  [-0.03, 10.795, 10.81, 10.825, 10.84], [-0.022, 10.79, 10.805, 10.82, 10.835, 10.85], [-0.014, 10.8, 10.815, 10.83, 10.845],
  [-0.006, 10.785, 10.8, 10.818, 10.832, 10.86], [0.002, 10.795, 10.81, 10.825, 10.84, 10.873], [0.01, 10.79, 10.805, 10.82, 10.838, 10.865],
  [0.018, 10.8, 10.815, 10.83, 10.85], [0.026, 10.79, 10.808, 10.822, 10.84], [0.034, 10.8, 10.815, 10.835, 10.86],
  [0.042, 10.82, 10.845, 10.87, 10.89], [0.05, 10.86, 10.89, 10.915, 10.94], [0.057, 10.88, 10.91, 10.935, 10.955],
  [0.064, 10.89, 10.92, 10.945, 10.96], [0.071, 10.87, 10.9, 10.93, 10.95], [0.078, 10.84, 10.87, 10.9, 10.92],
  [0.086, 10.8, 10.82, 10.845, 10.865], [0.094, 10.79, 10.805, 10.82, 10.835, 10.85], [0.102, 10.795, 10.81, 10.825, 10.84],
  [0.11, 10.785, 10.8, 10.815, 10.83, 10.845], [0.118, 10.79, 10.808, 10.822, 10.838], [0.126, 10.8, 10.812, 10.828, 10.845, 10.86],
  [0.134, 10.788, 10.805, 10.82, 10.835], [0.142, 10.795, 10.81, 10.825, 10.84, 10.855], [0.15, 10.785, 10.8, 10.818, 10.832],
  [0.158, 10.79, 10.806, 10.822, 10.838, 10.85], [0.166, 10.8, 10.814, 10.83, 10.845], [0.174, 10.782, 10.798, 10.815, 10.83, 10.865],
  [0.182, 10.79, 10.805, 10.82, 10.836, 10.88], [0.19, 10.775, 10.8, 10.815, 10.83, 10.85], [0.198, 10.764, 10.795, 10.81, 10.826, 10.842],
  [0.206, 10.788, 10.804, 10.82, 10.836, 10.87], [0.214, 10.78, 10.8, 10.816, 10.832, 10.855], [0.222, 10.792, 10.808, 10.824, 10.84, 10.885],
  [0.23, 10.785, 10.8, 10.815, 10.83, 10.848], [0.238, 10.79, 10.806, 10.822, 10.838, 10.862], [0.246, 10.778, 10.796, 10.812, 10.828, 10.845],
  [0.254, 10.788, 10.804, 10.82, 10.836], [0.262, 10.78, 10.8, 10.815, 10.832, 10.85], [0.27, 10.792, 10.808, 10.824, 10.84],
  [0.278, 10.785, 10.8, 10.816, 10.83, 10.858], [0.286, 10.79, 10.806, 10.82, 10.836, 10.85], [0.294, 10.776, 10.795, 10.812, 10.828, 10.845],
  [0.302, 10.788, 10.804, 10.82, 10.836], [0.31, 10.78, 10.8, 10.815, 10.83, 10.862], [0.318, 10.79, 10.806, 10.822, 10.838, 10.85],
  [0.326, 10.784, 10.8, 10.816, 10.832], [0.334, 10.792, 10.808, 10.824, 10.84, 10.855], [0.342, 10.786, 10.802, 10.818, 10.834, 10.875],
  [0.35, 10.79, 10.806, 10.822, 10.838, 10.895], [0.358, 10.782, 10.8, 10.816, 10.832, 10.905], [0.366, 10.79, 10.805, 10.82, 10.836, 10.88],
  [0.374, 10.785, 10.802, 10.818, 10.834, 10.85], [0.382, 10.792, 10.808, 10.824, 10.84, 10.9], [0.39, 10.786, 10.802, 10.818, 10.834, 10.89],
  [0.398, 10.79, 10.806, 10.822, 10.838, 10.87], [0.406, 10.784, 10.8, 10.816, 10.832, 10.91], [0.414, 10.79, 10.806, 10.822, 10.838, 10.86],
  [0.422, 10.786, 10.802, 10.818, 10.834, 10.88], [0.43, 10.792, 10.808, 10.824, 10.84], [0.438, 10.785, 10.8, 10.816, 10.832, 10.85],
  [0.446, 10.79, 10.806, 10.822, 10.838], [0.454, 10.786, 10.802, 10.818, 10.834, 10.848], [0.462, 10.792, 10.808, 10.824, 10.84],
  [0.47, 10.785, 10.8, 10.816, 10.832, 10.85], [0.478, 10.79, 10.806, 10.822, 10.838], [0.486, 10.788, 10.804, 10.82, 10.836, 10.852],
  [0.494, 10.794, 10.81, 10.826, 10.842], [0.502, 10.79, 10.806, 10.822, 10.838, 10.855], [0.51, 10.796, 10.812, 10.828, 10.844],
  [0.518, 10.8, 10.815, 10.83, 10.846, 10.86], [0.526, 10.805, 10.82, 10.838, 10.855], [0.534, 10.82, 10.84, 10.86, 10.88],
  [0.541, 10.85, 10.875, 10.9, 10.925], [0.548, 10.88, 10.91, 10.935, 10.96], [0.555, 10.91, 10.94, 10.965, 10.985],
  [0.561, 10.92, 10.95, 10.975, 10.99], [0.567, 10.9, 10.93, 10.955, 10.975], [0.574, 10.86, 10.89, 10.915, 10.94],
  [0.581, 10.82, 10.845, 10.87, 10.89], [0.589, 10.795, 10.81, 10.83, 10.85], [0.597, 10.788, 10.804, 10.82, 10.836],
  [0.605, 10.78, 10.798, 10.815, 10.83, 10.848], [0.613, 10.79, 10.806, 10.822, 10.838], [0.621, 10.784, 10.8, 10.816, 10.832, 10.855],
  [0.629, 10.792, 10.808, 10.824, 10.84], [0.637, 10.778, 10.796, 10.812, 10.828, 10.845], [0.645, 10.788, 10.804, 10.82, 10.836],
  [0.653, 10.78, 10.798, 10.814, 10.83, 10.85], [0.661, 10.79, 10.806, 10.822, 10.838], [0.669, 10.775, 10.795, 10.812, 10.828, 10.846],
  [0.677, 10.786, 10.802, 10.818, 10.834], [0.685, 10.78, 10.798, 10.814, 10.83, 10.852], [0.693, 10.79, 10.806, 10.822, 10.838],
  [0.701, 10.772, 10.794, 10.81, 10.826, 10.842], [0.709, 10.784, 10.8, 10.816, 10.832], [0.717, 10.778, 10.796, 10.812, 10.828, 10.85],
  [0.725, 10.788, 10.804, 10.82, 10.836], [0.733, 10.776, 10.795, 10.812, 10.828, 10.844], [0.741, 10.785, 10.802, 10.818, 10.834],
  [0.749, 10.77, 10.792, 10.81, 10.826, 10.842], [0.757, 10.782, 10.8, 10.816, 10.832], [0.765, 10.768, 10.79, 10.808, 10.824, 10.84],
  [0.773, 10.78, 10.798, 10.814, 10.83, 10.86], [0.781, 10.786, 10.802, 10.818, 10.834], [0.789, 10.776, 10.796, 10.812, 10.828, 10.846],
  [0.797, 10.788, 10.804, 10.82, 10.836], [0.805, 10.78, 10.798, 10.814, 10.83, 10.848], [0.813, 10.79, 10.806, 10.822, 10.838],
  [0.821, 10.784, 10.8, 10.816, 10.832, 10.852], [0.829, 10.792, 10.808, 10.824, 10.84], [0.837, 10.786, 10.802, 10.818, 10.834, 10.85],
  [0.845, 10.79, 10.806, 10.822, 10.838], [0.853, 10.784, 10.8, 10.816, 10.832, 10.848], [0.861, 10.776, 10.796, 10.812, 10.828],
  [0.869, 10.772, 10.79, 10.808, 10.824, 10.84], [0.877, 10.75, 10.786, 10.804, 10.82, 10.836], [0.885, 10.765, 10.79, 10.808, 10.824, 10.84],
  [0.893, 10.778, 10.796, 10.812, 10.828], [0.901, 10.782, 10.8, 10.816, 10.832, 10.85], [0.909, 10.79, 10.806, 10.822, 10.838],
  [0.917, 10.784, 10.8, 10.816, 10.832, 10.855], [0.925, 10.79, 10.806, 10.822, 10.838], [0.933, 10.786, 10.802, 10.818, 10.834, 10.87],
  [0.941, 10.792, 10.808, 10.824, 10.84, 10.895], [0.949, 10.785, 10.8, 10.816, 10.832, 10.88], [0.957, 10.79, 10.806, 10.822, 10.838],
  [0.965, 10.786, 10.802, 10.818, 10.834, 10.85], [0.973, 10.792, 10.808, 10.824, 10.84], [0.981, 10.785, 10.8, 10.816, 10.832, 10.848],
  [0.989, 10.79, 10.806, 10.822, 10.838, 10.885], [0.997, 10.786, 10.802, 10.818, 10.834], [1.005, 10.792, 10.808, 10.824, 10.84, 10.87],
  [1.013, 10.79, 10.806, 10.822, 10.838]
];

const brExtra = [
  [-0.026, 10.798, 10.813, 10.829], [-0.018, 10.803, 10.819, 10.841], [-0.01, 10.793, 10.809, 10.827, 10.851], [-0.002, 10.799, 10.815, 10.831],
  [0.006, 10.787, 10.803, 10.821, 10.847], [0.014, 10.797, 10.813, 10.829, 10.858], [0.022, 10.792, 10.811, 10.827, 10.845], [0.03, 10.796, 10.818, 10.833],
  [0.038, 10.805, 10.826, 10.848, 10.872], [0.046, 10.84, 10.868, 10.892, 10.915], [0.053, 10.872, 10.9, 10.925, 10.948], [0.06, 10.885, 10.915, 10.94, 10.958],
  [0.067, 10.882, 10.91, 10.938, 10.955], [0.074, 10.856, 10.885, 10.912, 10.935], [0.082, 10.818, 10.842, 10.868, 10.89], [0.09, 10.797, 10.812, 10.828, 10.848],
  [0.098, 10.791, 10.807, 10.823, 10.839], [0.106, 10.799, 10.813, 10.829, 10.853], [0.114, 10.793, 10.811, 10.826, 10.842], [0.122, 10.786, 10.803, 10.819, 10.835],
  [0.13, 10.797, 10.815, 10.831, 10.87], [0.138, 10.791, 10.807, 10.823, 10.845], [0.146, 10.799, 10.813, 10.829, 10.841], [0.154, 10.794, 10.81, 10.827, 10.858],
  [0.162, 10.787, 10.803, 10.819, 10.835], [0.17, 10.796, 10.812, 10.828, 10.848], [0.178, 10.79, 10.808, 10.824, 10.842, 10.875], [0.186, 10.785, 10.803, 10.819, 10.835],
  [0.194, 10.772, 10.797, 10.813, 10.829, 10.858], [0.202, 10.79, 10.81, 10.826, 10.844], [0.21, 10.795, 10.812, 10.828, 10.88], [0.218, 10.787, 10.803, 10.821, 10.837],
  [0.226, 10.796, 10.812, 10.829, 10.862], [0.234, 10.791, 10.809, 10.825, 10.843], [0.242, 10.785, 10.803, 10.819, 10.835, 10.87], [0.25, 10.796, 10.812, 10.828, 10.846],
  [0.258, 10.79, 10.807, 10.823, 10.84], [0.266, 10.786, 10.803, 10.819, 10.837, 10.858], [0.274, 10.797, 10.813, 10.829, 10.845], [0.282, 10.791, 10.81, 10.826, 10.842],
  [0.29, 10.786, 10.803, 10.818, 10.833, 10.855], [0.298, 10.795, 10.812, 10.828, 10.843], [0.306, 10.791, 10.808, 10.824, 10.84], [0.314, 10.786, 10.802, 10.819, 10.835, 10.868],
  [0.322, 10.797, 10.813, 10.829, 10.846], [0.33, 10.789, 10.805, 10.821, 10.837], [0.338, 10.795, 10.811, 10.827, 10.843, 10.882], [0.346, 10.789, 10.805, 10.821, 10.837, 10.9],
  [0.354, 10.796, 10.812, 10.828, 10.844], [0.362, 10.788, 10.804, 10.82, 10.836, 10.893], [0.37, 10.795, 10.811, 10.827, 10.843, 10.872], [0.378, 10.789, 10.805, 10.821, 10.837],
  [0.386, 10.796, 10.812, 10.828, 10.844, 10.885], [0.394, 10.788, 10.804, 10.82, 10.836, 10.902], [0.402, 10.795, 10.811, 10.827, 10.843], [0.41, 10.789, 10.805, 10.821, 10.837, 10.875],
  [0.418, 10.796, 10.812, 10.828, 10.844], [0.426, 10.788, 10.804, 10.82, 10.836, 10.865], [0.434, 10.795, 10.811, 10.827, 10.843], [0.442, 10.789, 10.805, 10.821, 10.837],
  [0.45, 10.796, 10.812, 10.828, 10.844], [0.458, 10.788, 10.804, 10.82, 10.836, 10.855], [0.466, 10.795, 10.811, 10.827, 10.843], [0.474, 10.789, 10.805, 10.821, 10.837],
  [0.482, 10.796, 10.812, 10.828, 10.844], [0.49, 10.791, 10.807, 10.823, 10.839, 10.857], [0.498, 10.797, 10.813, 10.829, 10.845], [0.506, 10.793, 10.809, 10.825, 10.841],
  [0.514, 10.799, 10.815, 10.831, 10.848], [0.522, 10.803, 10.818, 10.834, 10.852], [0.53, 10.812, 10.83, 10.848, 10.868], [0.538, 10.835, 10.858, 10.882, 10.905],
  [0.545, 10.865, 10.892, 10.918, 10.943], [0.552, 10.895, 10.925, 10.95, 10.972], [0.558, 10.915, 10.945, 10.97, 10.988], [0.564, 10.91, 10.94, 10.965, 10.984],
  [0.571, 10.88, 10.91, 10.935, 10.958], [0.578, 10.838, 10.865, 10.89, 10.915], [0.585, 10.806, 10.825, 10.845, 10.868], [0.593, 10.791, 10.807, 10.823, 10.843],
  [0.601, 10.785, 10.801, 10.818, 10.834], [0.609, 10.793, 10.809, 10.825, 10.841], [0.617, 10.787, 10.803, 10.819, 10.835, 10.86], [0.625, 10.796, 10.812, 10.828, 10.844],
  [0.633, 10.783, 10.8, 10.816, 10.832], [0.641, 10.792, 10.808, 10.824, 10.84, 10.855], [0.649, 10.785, 10.802, 10.818, 10.834], [0.657, 10.794, 10.81, 10.826, 10.842],
  [0.665, 10.78, 10.798, 10.815, 10.831, 10.851], [0.673, 10.79, 10.806, 10.822, 10.838], [0.681, 10.784, 10.8, 10.816, 10.832], [0.689, 10.793, 10.809, 10.825, 10.841, 10.86],
  [0.697, 10.778, 10.797, 10.813, 10.829], [0.705, 10.789, 10.805, 10.821, 10.837], [0.713, 10.782, 10.8, 10.816, 10.832, 10.848], [0.721, 10.792, 10.808, 10.824, 10.84],
  [0.729, 10.781, 10.799, 10.815, 10.831], [0.737, 10.79, 10.806, 10.822, 10.838, 10.85], [0.745, 10.776, 10.795, 10.812, 10.828], [0.753, 10.786, 10.802, 10.818, 10.834],
  [0.761, 10.774, 10.794, 10.81, 10.826, 10.846], [0.769, 10.783, 10.8, 10.816, 10.832], [0.777, 10.79, 10.806, 10.822, 10.838], [0.785, 10.781, 10.799, 10.815, 10.831, 10.85],
  [0.793, 10.792, 10.808, 10.824, 10.84], [0.801, 10.785, 10.802, 10.818, 10.834], [0.809, 10.794, 10.81, 10.826, 10.842, 10.856], [0.817, 10.788, 10.804, 10.82, 10.836],
  [0.825, 10.796, 10.812, 10.828, 10.844], [0.833, 10.789, 10.805, 10.821, 10.837, 10.858], [0.841, 10.795, 10.811, 10.827, 10.843], [0.849, 10.789, 10.805, 10.821, 10.837],
  [0.857, 10.78, 10.798, 10.814, 10.83, 10.845], [0.865, 10.774, 10.793, 10.81, 10.826], [0.873, 10.762, 10.788, 10.806, 10.822, 10.838], [0.881, 10.755, 10.787, 10.805, 10.821],
  [0.889, 10.772, 10.793, 10.81, 10.826, 10.842], [0.897, 10.784, 10.801, 10.817, 10.833], [0.905, 10.788, 10.804, 10.82, 10.836, 10.852], [0.913, 10.795, 10.811, 10.827, 10.843],
  [0.921, 10.789, 10.805, 10.821, 10.837], [0.929, 10.796, 10.812, 10.828, 10.844, 10.862], [0.937, 10.789, 10.805, 10.821, 10.837, 10.885], [0.945, 10.795, 10.811, 10.827, 10.843, 10.893],
  [0.953, 10.788, 10.804, 10.82, 10.836], [0.961, 10.796, 10.812, 10.828, 10.844], [0.969, 10.789, 10.805, 10.821, 10.837, 10.858], [0.977, 10.795, 10.811, 10.827, 10.843],
  [0.985, 10.788, 10.804, 10.82, 10.836, 10.875], [0.993, 10.796, 10.812, 10.828, 10.844], [1.001, 10.789, 10.805, 10.821, 10.837], [1.009, 10.795, 10.811, 10.827, 10.843, 10.862],
  [1.017, 10.79, 10.806, 10.822, 10.838]
];

const width = 463;
const height = 312;

const svg = d3.select("#chart")
  .append("svg")
  .attr("width", width)
  .attr("height", height);

const phaseFormat = d => (d === 0 || d === 1 ? String(d) : String(d).replace("0.", "."));
const magFormat = d => String(+d.toFixed(1));

/**
 * draw one light-curve panel
 * @param {Object} cfg panel settings
 */
function drawPanel(cfg) {
  const x = d3.scaleLinear().domain(cfg.xDomain).range([cfg.left, cfg.right]);
  const y = d3.scaleLinear().domain(cfg.yDomain).range([cfg.top, cfg.bottom]);
  const g = svg.append("g");

  g.append("rect")
    .attr("x", cfg.left)
    .attr("y", cfg.top)
    .attr("width", cfg.right - cfg.left)
    .attr("height", cfg.bottom - cfg.top)
    .attr("fill", "#ffffc4");

  const pts = cfg.rows.flatMap((r, k) => r.slice(1).map((m, i) => ({ p: r[0], m, s: k + i })));
  g.append("g")
    .selectAll("rect")
    .data(pts)
    .join("rect")
    .attr("x", d => x(d.p) - 1)
    .attr("y", d => y(d.m) - 1)
    .attr("width", 2)
    .attr("height", 2)
    .attr("fill", "#0000ff")
    .attr("fill-opacity", d => (d.s % 3 === 2 ? 0.5 : 0.95));

  const xMinor = d3.range(0, 1.001, 0.05);
  const yMinor = d3.range(cfg.yMinor[0], cfg.yMinor[1], cfg.yMinor[2]);

  // minor ticks on all four sides
  const minor = [
    [d3.axisBottom(x).tickValues(xMinor), `translate(0,${cfg.bottom})`],
    [d3.axisTop(x).tickValues(xMinor), `translate(0,${cfg.top})`],
    [d3.axisLeft(y).tickValues(yMinor), `translate(${cfg.left},0)`],
    [d3.axisRight(y).tickValues(yMinor), `translate(${cfg.right},0)`]
  ];
  minor.forEach(([axis, tr]) => {
    g.append("g")
      .attr("transform", tr)
      .call(axis.tickSize(-3).tickFormat(""))
      .call(a => a.select(".domain").remove());
  });

  // major ticks
  const major = [
    [d3.axisBottom(x).tickValues(phaseTicks).tickFormat(cfg.xLabels ? phaseFormat : ""), `translate(0,${cfg.bottom})`],
    [d3.axisTop(x).tickValues(phaseTicks).tickFormat(""), `translate(0,${cfg.top})`],
    [d3.axisLeft(y).tickValues(cfg.yTicks).tickFormat(cfg.yLabels ? magFormat : ""), `translate(${cfg.left},0)`],
    [d3.axisRight(y).tickValues(cfg.yTicks).tickFormat(""), `translate(${cfg.right},0)`]
  ];
  major.forEach(([axis, tr]) => {
    g.append("g")
      .attr("transform", tr)
      .call(axis.tickSize(-5.5).tickPadding(11))
      .call(a => a.select(".domain").remove())
      .call(a => a.selectAll("text")
        .attr("font-family", "Liberation Sans, Arial, sans-serif")
        .attr("font-weight", "bold")
        .attr("font-size", 8.4)
        .attr("fill", "#000"));
  });
  g.selectAll(".tick line").attr("stroke", "#000");

  g.append("rect")
    .attr("x", cfg.left)
    .attr("y", cfg.top)
    .attr("width", cfg.right - cfg.left)
    .attr("height", cfg.bottom - cfg.top)
    .attr("fill", "none")
    .attr("stroke", "#000")
    .attr("stroke-width", 1.5);
}

const leftX = [66, 253];
const rightX = [269, 453];
const topY = [14, 127];
const botY = [150, 262];

const panels = [
  { rows: tlRows.concat(tlExtra), xs: leftX, ys: topY, xDomain: [-0.039, 1.042], yDomain: [9.43, 10.47],
    yTicks: topMagTicks, yMinor: [9.45, 10.46, 0.05], xLabels: false, yLabels: true },
  { rows: trRows.concat(trExtra), xs: rightX, ys: topY, xDomain: [-0.036, 1.02], yDomain: [9.43, 10.47],
    yTicks: topMagTicks, yMinor: [9.45, 10.46, 0.05], xLabels: false, yLabels: false },
  { rows: blRows.concat(blExtra), xs: leftX, ys: botY, xDomain: [-0.039, 1.042], yDomain: [10.566, 11.057],
    yTicks: bottomMagTicks, yMinor: [10.58, 11.05, 0.02], xLabels: true, yLabels: true },
  { rows: brRows.concat(brExtra), xs: rightX, ys: botY, xDomain: [-0.036, 1.02], yDomain: [10.566, 11.057],
    yTicks: bottomMagTicks, yMinor: [10.58, 11.05, 0.02], xLabels: true, yLabels: false }
];

panels.forEach(p => {
  drawPanel({ ...p, left: p.xs[0], right: p.xs[1], top: p.ys[0], bottom: p.ys[1] });
});

// titles
[12.3, 147.3].forEach((yy, i) => {
  svg.append("text")
    .attr("x", 67.5)
    .attr("y", yy)
    .attr("font-family", "DejaVu Sans, sans-serif")
    .attr("font-weight", "bold")
    .attr("font-size", 11)
    .attr("letter-spacing", 0.4)
    .text(starIds[i]);
  svg.append("text")
    .attr("x", 250)
    .attr("y", yy)
    .attr("text-anchor", "end")
    .attr("font-family", "DejaVu Sans, sans-serif")
    .attr("font-weight", "bold")
    .attr("font-size", 11)
    .attr("letter-spacing", 0.4)
    .text(periods[i]);
});

// y axis titles
[71, 206].forEach(cy => {
  const t = svg.append("text")
    .attr("transform", `translate(13.5,${cy}) rotate(-90)`)
    .attr("text-anchor", "middle")
    .attr("font-family", "DejaVu Serif, serif")
    .attr("font-size", 11);
  t.append("tspan").text("I");
  t.append("tspan").attr("font-size", 8.5).attr("dy", 2).text("inst");
});

// x axis titles
[159.5, 361].forEach(cx => {
  svg.append("text")
    .attr("x", cx)
    .attr("y", 304)
    .attr("text-anchor", "middle")
    .attr("font-family", "DejaVu Serif, serif")
    .attr("font-size", 14)
    .text("Phase");
});
</script>
</body>
</html>
